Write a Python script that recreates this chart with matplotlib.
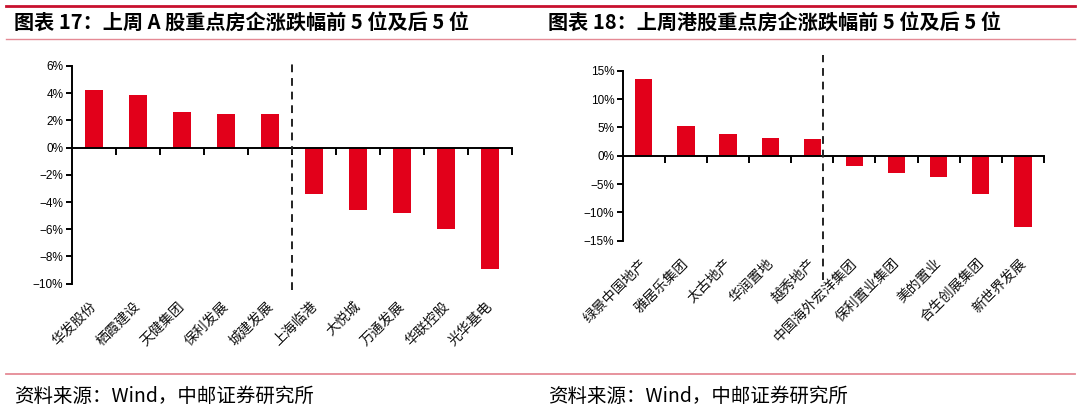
import numpy as np
import matplotlib
matplotlib.use('Agg')
import matplotlib.pyplot as plt
from matplotlib.ticker import FixedLocator, FuncFormatter
from matplotlib.lines import Line2D
import matplotlib.transforms as mtrans

plt.rcParams['font.family'] = ['Noto Sans CJK SC', 'DejaVu Sans']

# data
a_names = ['华发股份', '栖霞建设', '天健集团', '保利发展', '城建发展',
           '上海临港', '大悦城', '万通发展', '华联控股', '光华基电']
a_values = [4.2, 3.9, 2.6, 2.5, 2.5, -3.4, -4.6, -4.8, -6.0, -8.9]
a_yticks = [6, 4, 2, 0, -2, -4, -6, -8, -10]

hk_names = ['绿景中国地产', '雅居乐集团', '太古地产', '华润置地', '越秀地产',
            '中国海外宏洋集团', '保利置业集团', '美的置业', '合生创展集团', '新世界发展']
hk_values = [13.5, 5.2, 3.8, 3.2, 3.0, -1.9, -3.1, -3.7, -6.7, -12.6]
hk_yticks = [15, 10, 5, 0, -5, -10, -15]

titles = ['图表 17：上周 A 股重点房企涨跌幅前 5 位及后 5 位',
          '图表 18：上周港股重点房企涨跌幅前 5 位及后 5 位']
source = '资料来源：Wind，中邮证券研究所'

bar_color = '#E2001A'
W, H = 1080, 418
fig = plt.figure(figsize=(W / 100, H / 100), dpi=100)


def px(x0, y_top, x1, y_bot):
    return [x0 / W, 1 - y_bot / H, (x1 - x0) / W, (y_bot - y_top) / H]


def pct(v, pos):
    s = '%d%%' % abs(v)
    return ('\u2212' + s) if v < 0 else s


def draw_panel(ax, names, values, yticks, vline_x, vline_span, label_off):
    x = np.arange(len(values))
    ax.bar(x, values, width=0.41, color=bar_color, zorder=2)
    ax.set_xlim(-0.5, len(values) - 0.5)
    ax.set_ylim(min(yticks), max(yticks))
    for s in ['top', 'right']:
        ax.spines[s].set_visible(False)
    ax.spines['bottom'].set_position(('data', 0))
    ax.spines['bottom'].set_linewidth(1.4)
    ax.spines['left'].set_linewidth(1.4)
    ax.yaxis.set_major_locator(FixedLocator(yticks))
    ax.yaxis.set_major_formatter(FuncFormatter(pct))
    ax.xaxis.set_major_locator(FixedLocator(np.arange(len(values)) + 0.5))
    ax.set_xticklabels([])
    ax.tick_params(axis='y', direction='out', length=4, width=1.4, pad=2,
                   labelsize=8.5)
    ax.tick_params(axis='x', direction='out', length=5, width=1.4)
    for lab in ax.get_yticklabels():
        lab.set_family(['Liberation Sans', 'DejaVu Sans'])
    ax.axvline(vline_x, ymin=vline_span[0], ymax=vline_span[1], color='#222222',
               linestyle=(0, (4, 3)), linewidth=1.4, clip_on=False, zorder=3)
    trans = mtrans.blended_transform_factory(ax.transData, ax.transAxes) + \
        mtrans.ScaledTranslation(4 / 72, -label_off / 72, fig.dpi_scale_trans)
    for i, n in enumerate(names):
        ax.text(i, 0, n, transform=trans, rotation=45, ha='right', va='top',
                fontsize=10, color='#111111')


ax1 = fig.add_axes(px(71.7, 66, 512, 283.7))
draw_panel(ax1, a_names, a_values, a_yticks, 4.5, (-0.03, 1.018), 11)

ax2 = fig.add_axes(px(622.7, 70.7, 1044, 240.7))
draw_panel(ax2, hk_names, hk_values, hk_yticks, 4.26, (-0.23, 1.09), 11)

# frame lines and texts
fig.add_artist(Line2D([6 / W, 1075 / W], [1 - 6 / H] * 2, color='#C8102E', linewidth=2))
fig.add_artist(Line2D([6 / W, 1075 / W], [1 - 39 / H] * 2, color='#E58A95', linewidth=1))
fig.add_artist(Line2D([6 / W, 1075 / W], [1 - 374 / H] * 2, color='#E58A95', linewidth=1.3))

fig.text(14 / W, 1 - 23 / H, titles[0], fontsize=14.5, fontweight='bold', va='center', ha='left')
fig.text(548 / W, 1 - 23 / H, titles[1], fontsize=14.5, fontweight='bold', va='center', ha='left')
fig.text(14 / W, 1 - 396 / H, source, fontsize=14, va='center', ha='left')
fig.text(548 / W, 1 - 396 / H, source, fontsize=14, va='center', ha='left')

fig.savefig('out.png', dpi=100)
